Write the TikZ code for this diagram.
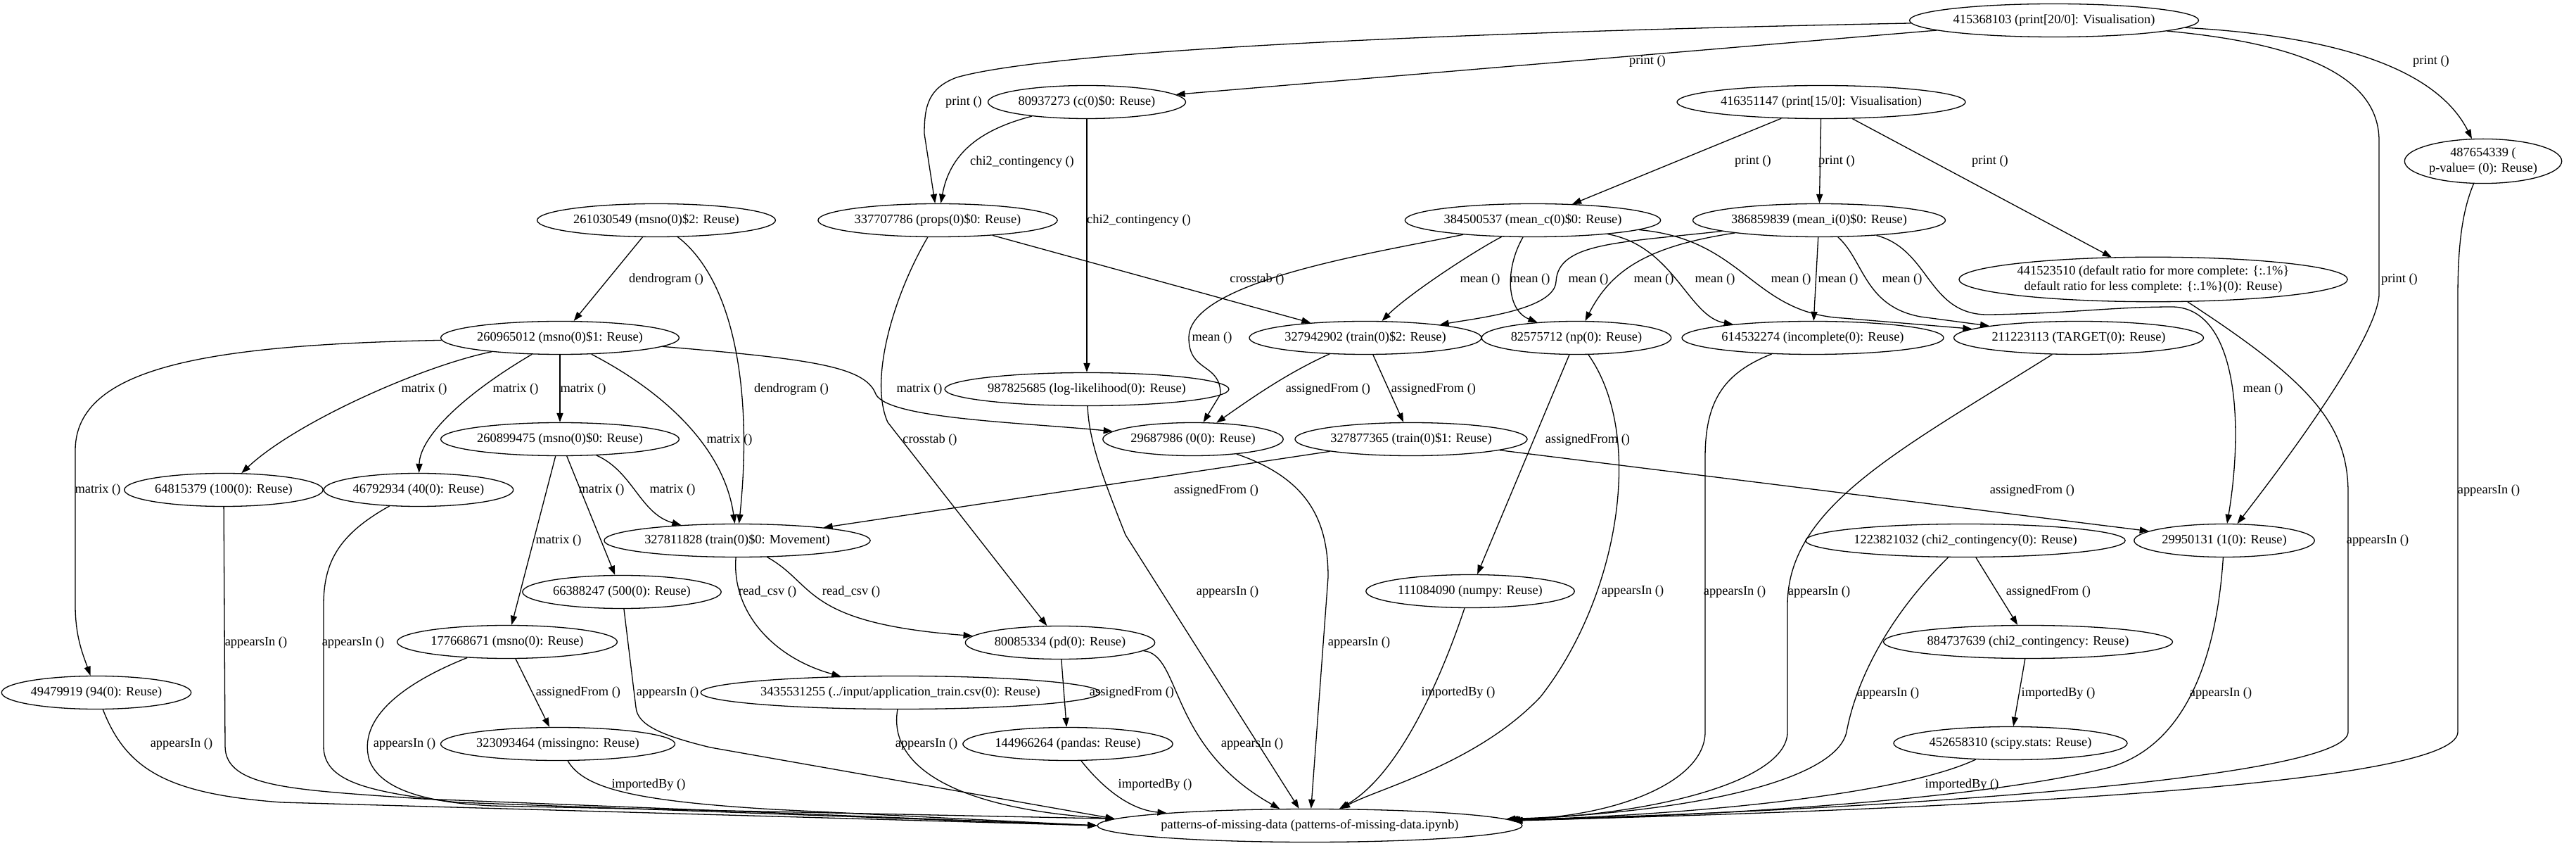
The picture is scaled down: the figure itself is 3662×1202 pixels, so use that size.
\documentclass[tikz,border=0pt]{standalone}
\usepackage{fontspec}
\setmainfont{Liberation Serif}
\usetikzlibrary{arrows.meta,shapes.geometric}

\begin{document}
\begin{tikzpicture}[x=0.5pt,y=-0.5pt,>={Triangle[length=6.5pt,width=4.6pt]},line join=round,
  nd/.style={ellipse,draw,line width=0.65pt,inner xsep=1pt,inner ysep=1.5pt,minimum height=23.5pt,align=center,font=\fontsize{9.2}{11}\selectfont},
  lbl/.style={inner sep=0pt,font=\fontsize{9.2}{11}\selectfont},
  edge/.style={->,line width=0.65pt}]
  \useasboundingbox (0,0) rectangle (3662,1202);
  % nodes
  \node[nd] (PR20) at (2920,29) {415368103 (print[20/0]: Visualisation)};
  \node[nd] (C0) at (1545,145) {80937273 (c(0)\$0: Reuse)};
  \node[nd] (PR15) at (2589,145) {416351147 (print[15/0]: Visualisation)};
  \node[nd] (PVAL) at (3530,229) {487654339 (\\ p-value= (0): Reuse)};
  \node[nd] (MS2) at (933,313) {261030549 (msno(0)\$2: Reuse)};
  \node[nd] (PROPS) at (1333,313) {337707786 (props(0)\$0: Reuse)};
  \node[nd] (MEANC) at (2179,313) {384500537 (mean\_c(0)\$0: Reuse)};
  \node[nd] (MEANI) at (2586,313) {386859839 (mean\_i(0)\$0: Reuse)};
  \node[nd] (DEFR) at (3061,397) {441523510 (default ratio for more complete: \{:.1\%\}\\default ratio for less complete: \{:.1\%\}(0): Reuse)};
  \node[nd] (MS1) at (796,480) {260965012 (msno(0)\$1: Reuse)};
  \node[nd] (TR2) at (1941,480) {327942902 (train(0)\$2: Reuse)};
  \node[nd] (NP0) at (2241,480) {82575712 (np(0): Reuse)};
  \node[nd] (INC) at (2577,480) {614532274 (incomplete(0): Reuse)};
  \node[nd] (TGT) at (2955,480) {211223113 (TARGET(0): Reuse)};
  \node[nd] (LOGL) at (1545,553) {987825685 (log-likelihood(0): Reuse)};
  \node[nd] (ZERO) at (1696,624) {29687986 (0(0): Reuse)};
  \node[nd] (TR1) at (2006,624) {327877365 (train(0)\$1: Reuse)};
  \node[nd] (MS0) at (796,624) {260899475 (msno(0)\$0: Reuse)};
  \node[nd] (H100) at (318,696) {64815379 (100(0): Reuse)};
  \node[nd] (F40) at (595,696) {46792934 (40(0): Reuse)};
  \node[nd] (TR0) at (1048,768) {327811828 (train(0)\$0: Movement)};
  \node[nd] (ONE) at (3162,768) {29950131 (1(0): Reuse)};
  \node[nd] (CHI0) at (2794,768) {1223821032 (chi2\_contingency(0): Reuse)};
  \node[nd] (NUMPY) at (2090,840) {111084090 (numpy: Reuse)};
  \node[nd] (F500) at (884,841) {66388247 (500(0): Reuse)};
  \node[nd] (CHIM) at (2883,912) {884737639 (chi2\_contingency: Reuse)};
  \node[nd] (PD0) at (1507,913) {80085334 (pd(0): Reuse)};
  \node[nd] (MSNO) at (721,912) {177668671 (msno(0): Reuse)};
  \node[nd] (N94) at (137,984) {49479919 (94(0): Reuse)};
  \node[nd] (CSV) at (1280,984) {3435531255 (../input/application\_train.csv(0): Reuse)};
  \node[nd] (SCIPY) at (2858,1056) {452658310 (scipy.stats: Reuse)};
  \node[nd] (MISS) at (793,1057) {323093464 (missingno: Reuse)};
  \node[nd] (PANDAS) at (1518,1057) {144966264 (pandas: Reuse)};
  \node[nd] (NB) at (1862,1173) {patterns-of-missing-data (patterns-of-missing-data.ipynb)};
  % print edges
  \draw[edge] (PR20) .. controls (2100,45) and (1500,70) .. (1360,110) .. controls (1320,125) and (1314,150) .. (1314,190) -- (PROPS) node[lbl] (l1) at (1370,145) {print ()};
  \draw[edge] (PR20) -- (C0) node[lbl] (l2) at (2342,87) {print ()};
  \draw[edge] (PR20) .. controls (3250,60) and (3382,100) .. (3382,200) -- (3382,420) .. controls (3376,490) and (3230,680) .. (ONE) node[lbl] (l3) at (3411,397) {print ()};
  \draw[edge] (PR20) .. controls (3300,50) and (3460,90) .. (PVAL) node[lbl] (l4) at (3456,87) {print ()};
  \draw[edge] (C0) .. controls (1390,185) and (1350,220) .. (PROPS) node[lbl] (l5) at (1453,230) {chi2\_contingency ()};
  \draw[edge] (C0) -- (LOGL) node[lbl] (l6) at (1619,313) {chi2\_contingency ()};
  \draw[edge] (PR15) -- (MEANC) node[lbl] (l7) at (2492,229) {print ()};
  \draw[edge] (PR15) -- (MEANI) node[lbl] (l8) at (2611,229) {print ()};
  \draw[edge] (PR15) -- (DEFR) node[lbl] (l9) at (2829,229) {print ()};
  % dendrogram, crosstab
  \draw[edge] (MS2) -- (MS1) node[lbl] (l10) at (947,397) {dendrogram ()};
  \draw[edge] (MS2) .. controls (1045,400) and (1070,560) .. (TR0) node[lbl] (l11) at (1125,553) {dendrogram ()};
  \draw[edge] (PROPS) -- (TR2) node[lbl] (l12) at (1787,397) {crosstab ()};
  \draw[edge] (PROPS) .. controls (1270,420) and (1235,540) .. (1262,600) -- (PD0) node[lbl] (l13) at (1322,625) {crosstab ()};
  % mean edges
  \draw[edge] (MEANC) .. controls (1950,360) and (1690,400) .. (1690,480) .. controls (1690,530) and (1735,515) .. (1735,560) -- (ZERO) node[lbl] (l14) at (1723,480) {mean ()};
  \draw[edge] (MEANC) .. controls (2090,360) and (2000,420) .. (TR2) node[lbl] (l15) at (2104,397) {mean ()};
  \draw[edge] (MEANC) .. controls (2140,380) and (2140,440) .. (NP0) node[lbl] (l16) at (2175,397) {mean ()};
  \draw[edge] (MEANC) .. controls (2380,350) and (2400,450) .. (INC) node[lbl] (l17) at (2438,397) {mean ()};
  \draw[edge] (MEANC) .. controls (2480,340) and (2490,445) .. (2620,452) -- (TGT) node[lbl] (l18) at (2546,397) {mean ()};
  \draw[edge] (MEANI) .. controls (2300,345) and (2215,345) .. (2212,400) .. controls (2210,440) and (2100,452) .. (TR2) node[lbl] (l19) at (2258,397) {mean ()};
  \draw[edge] (MEANI) .. controls (2340,350) and (2290,385) .. (NP0) node[lbl] (l20) at (2351,397) {mean ()};
  \draw[edge] (MEANI) -- (INC) node[lbl] (l21) at (2613,397) {mean ()};
  \draw[edge] (MEANI) .. controls (2650,370) and (2650,435) .. (2730,450) -- (TGT) node[lbl] (l22) at (2704,397) {mean ()};
  \draw[edge] (MEANI) .. controls (2745,355) and (2740,450) .. (2830,447) .. controls (2950,445) and (3000,436) .. (3090,436) .. controls (3180,440) and (3190,600) .. (ONE) node[lbl] (l23) at (3217,553) {mean ()};
  % matrix edges
  \draw[edge] (MS1) .. controls (300,490) and (107,520) .. (107,640) -- (107,860) .. controls (107,905) and (118,930) .. (N94) node[lbl] (l26) at (139,696) {matrix ()};
  \draw[edge] (MS1) .. controls (600,520) and (420,600) .. (H100) node[lbl] (l27) at (603,553) {matrix ()};
  \draw[edge] (MS1) .. controls (660,560) and (597,620) .. (F40) node[lbl] (l28) at (733,553) {matrix ()};
  \draw[edge] (MS1) -- (MS0) node[lbl] (l29) at (829,553) {matrix ()};
  \draw[edge] (MS1) .. controls (950,560) and (1030,640) .. (TR0) node[lbl] (l30) at (1037,625) {matrix ()};
  \draw[edge] (MS1) .. controls (1150,510) and (1230,520) .. (1245,560) .. controls (1262,595) and (1450,600) .. (ZERO) node[lbl] (l31) at (1307,553) {matrix ()};
  \draw[edge] (MS0) -- (MSNO) node[lbl] (l32) at (794,768) {matrix ()};
  \draw[edge] (MS0) -- (F500) node[lbl] (l33) at (855,696) {matrix ()};
  \draw[edge] (MS0) .. controls (900,670) and (910,730) .. (TR0) node[lbl] (l34) at (956,696) {matrix ()};
  % assignedFrom, read_csv
  \draw[edge] (TR2) .. controls (1830,530) and (1780,565) .. (ZERO) node[lbl] (l35) at (1888,553) {assignedFrom ()};
  \draw[edge] (TR2) -- (TR1) node[lbl] (l36) at (2038,553) {assignedFrom ()};
  \draw[edge] (TR1) -- (TR0) node[lbl] (l37) at (1729,697) {assignedFrom ()};
  \draw[edge] (TR1) -- (ONE) node[lbl] (l38) at (2889,697) {assignedFrom ()};
  \draw[edge] (TR0) .. controls (1040,870) and (1100,935) .. (CSV) node[lbl] (l39) at (1091,841) {read\_csv ()};
  \draw[edge] (TR0) .. controls (1160,830) and (1140,885) .. (PD0) node[lbl] (l40) at (1210,841) {read\_csv ()};
  \draw[edge] (PD0) -- (PANDAS) node[lbl] (l41) at (1609,984) {assignedFrom ()};
  \draw[edge] (NP0) -- (NUMPY) node[lbl] (l44) at (2257,625) {assignedFrom ()};
  \draw[edge] (CHI0) -- (CHIM) node[lbl] (l51) at (2912,841) {assignedFrom ()};
  \draw[edge] (CHIM) -- (SCIPY) node[lbl] (l53) at (2926,985) {importedBy ()};
  \draw[edge] (MSNO) -- (MISS) node[lbl] (l60) at (822,984) {assignedFrom ()};
  % edges into the notebook
  \draw[edge] (DEFR) .. controls (3280,540) and (3338,600) .. (3338,700) -- (3338,1040) .. controls (3338,1105) and (2700,1150) .. (NB) node[lbl] (l24) at (3380,768) {appearsIn ()};
  \draw[edge] (PVAL) .. controls (3500,300) and (3494,350) .. (3494,420) -- (3494,1040) .. controls (3494,1120) and (2700,1152) .. (NB) node[lbl] (l25) at (3538,697) {appearsIn ()};
  \draw[edge] (PD0) .. controls (1680,930) and (1660,1060) .. (NB) node[lbl] (l42) at (1780,1057) {appearsIn ()};
  \draw[edge] (PANDAS) .. controls (1560,1110) and (1600,1150) .. (NB) node[lbl] (l43) at (1642,1115) {importedBy ()};
  \draw[edge] (NP0) .. controls (2340,620) and (2300,850) .. (2190,990) .. controls (2100,1085) and (1960,1120) .. (NB) node[lbl] (l45) at (2321,840) {appearsIn ()};
  \draw[edge] (NUMPY) .. controls (2050,960) and (1990,1100) .. (NB) node[lbl] (l46) at (2073,984) {importedBy ()};
  \draw[edge] (ZERO) .. controls (1860,680) and (1888,740) .. (1888,820) -- (NB) node[lbl] (l47) at (1932,913) {appearsIn ()};
  \draw[edge] (LOGL) .. controls (1548,620) and (1560,660) .. (1600,760) -- (NB) node[lbl] (l48) at (1745,841) {appearsIn ()};
  \draw[edge] (INC) .. controls (2450,530) and (2424,570) .. (2424,650) -- (2424,1040) .. controls (2424,1110) and (2300,1160) .. (NB) node[lbl] (l49) at (2466,841) {appearsIn ()};
  \draw[edge] (TGT) .. controls (2700,640) and (2541,720) .. (2541,860) -- (2541,1040) .. controls (2541,1110) and (2350,1158) .. (NB) node[lbl] (l50) at (2586,841) {appearsIn ()};
  \draw[edge] (CHI0) .. controls (2690,870) and (2640,960) .. (2625,1040) .. controls (2610,1110) and (2400,1155) .. (NB) node[lbl] (l52) at (2684,985) {appearsIn ()};
  \draw[edge] (SCIPY) .. controls (2700,1130) and (2400,1158) .. (NB) node[lbl] (l54) at (2789,1115) {importedBy ()};
  \draw[edge] (ONE) .. controls (3150,950) and (3100,1060) .. (3000,1090) .. controls (2800,1140) and (2400,1160) .. (NB) node[lbl] (l55) at (3157,985) {appearsIn ()};
  \draw[edge] (CSV) .. controls (1262,1090) and (1360,1150) .. (NB.178) node[lbl] (l56) at (1317,1057) {appearsIn ()};
  \draw[edge] (N94) .. controls (180,1095) and (240,1128) .. (400,1140) -- (NB.west) node[lbl] (l57) at (258,1057) {appearsIn ()};
  \draw[edge] (H100) -- (320,1060) .. controls (320,1120) and (420,1122) .. (600,1135) -- (NB.west) node[lbl] (l58) at (364,913) {appearsIn ()};
  \draw[edge] (F40) .. controls (480,760) and (460,800) .. (460,860) -- (460,1060) .. controls (460,1110) and (520,1125) .. (650,1140) -- (NB.west) node[lbl] (l59) at (502,913) {appearsIn ()};
  \draw[edge] (MSNO) .. controls (600,960) and (505,1010) .. (525,1080) .. controls (540,1120) and (600,1140) .. (700,1145) -- (NB.178) node[lbl] (l61) at (575,1057) {appearsIn ()};
  \draw[edge] (MISS) .. controls (830,1120) and (900,1138) .. (1100,1150) -- (NB.west) node[lbl] (l62) at (922,1115) {importedBy ()};
  \draw[edge] (F500) -- (904,1005) .. controls (906,1030) and (940,1045) .. (1010,1062) -- (NB.178) node[lbl] (l63) at (949,984) {appearsIn ()};
\end{tikzpicture}
\end{document}
